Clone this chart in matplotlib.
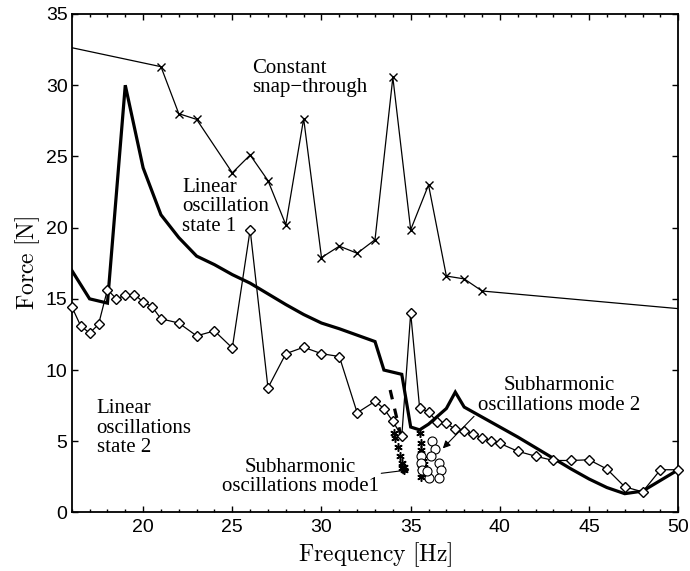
import numpy as np
import matplotlib
matplotlib.use("Agg")
import matplotlib.pyplot as plt
from matplotlib.ticker import MultipleLocator

# --- measured data ---------------------------------------------------------
# snap-through boundary (x markers); end points lie outside the plotted range
freq_snap = [15, 21, 22, 23, 25, 26, 27, 28, 29, 30, 31, 32, 33, 34, 35, 36, 37, 38, 39, 51]
force_snap = [32.9, 31.3, 28.0, 27.6, 23.85, 25.1, 23.3, 20.2, 27.65, 17.9, 18.7, 18.2,
              19.15, 30.55, 19.85, 23.0, 16.6, 16.4, 15.55, 14.2]

# boundary between linear oscillation states (thick line)
freq_thick = [16, 17, 18, 19, 20, 21, 22, 23, 24, 25, 26, 27, 28, 29, 30, 31, 32, 33, 33.5,
              34.5, 35, 35.5, 36, 37, 37.5, 38, 39, 40, 41, 42, 43, 44, 45, 46, 47, 48, 49, 50]
force_thick = [17.0, 15.0, 14.7, 30.0, 24.2, 20.9, 19.3, 18.0, 17.4, 16.7, 16.1, 15.35, 14.6,
               13.9, 13.3, 12.9, 12.45, 12.0, 10.0, 9.7, 6.0, 5.8, 6.2, 7.3, 8.45, 7.4, 6.7,
               6.0, 5.3, 4.55, 3.8, 3.05, 2.35, 1.75, 1.32, 1.5, 2.25, 3.0]

# lower boundary (diamonds)
freq_lin = [16, 16.5, 17, 17.5, 18, 18.5, 19, 19.5, 20, 20.5, 21, 22, 23, 24, 25, 26, 27, 28,
            29, 30, 31, 32, 33, 33.5, 34, 34.5, 35, 35.5, 36, 36.5, 37, 37.5, 38, 38.5, 39,
            39.5, 40, 41, 42, 43, 44, 45, 46, 47, 48, 49, 50]
force_lin = [14.45, 13.1, 12.6, 13.2, 15.65, 15.0, 15.25, 15.3, 14.8, 14.45, 13.6, 13.3, 12.4,
             12.75, 11.55, 19.85, 8.75, 11.15, 11.6, 11.15, 10.95, 7.0, 7.8, 7.3, 6.4, 5.35,
             14.0, 7.35, 7.05, 6.35, 6.25, 5.85, 5.7, 5.5, 5.25, 5.05, 4.85, 4.3, 3.95, 3.65,
             3.65, 3.7, 3.05, 1.8, 1.45, 3.0, 3.0]

# jump of the boundary near 34 Hz (dashed)
freq_jump = [33.85, 34.45]
force_jump = [8.6, 5.4]

# subharmonic mode 1 (asterisks)
freq_sub1 = [34.05, 34.1, 34.3, 34.4, 34.5, 34.5, 34.65, 34.6,
             35.5, 35.55, 35.55, 35.7, 35.75, 35.6, 35.65, 35.55, 35.8]
force_sub1 = [5.6, 5.2, 4.6, 4.0, 3.5, 3.1, 2.95, 3.2,
              5.6, 4.9, 4.4, 3.8, 3.4, 3.1, 2.7, 2.5, 2.9]

# subharmonic mode 2 (circles)
freq_sub2 = [36.2, 36.35, 35.55, 36.15, 35.6, 36.6, 35.65, 36.7, 36.0, 36.6, 35.9]
force_sub2 = [5.0, 4.45, 4.0, 3.95, 3.5, 3.5, 3.0, 3.0, 2.45, 2.45, 2.9]

# --- figure ----------------------------------------------------------------
plt.rcParams['font.family'] = ['Liberation Sans', 'DejaVu Sans']
plt.rcParams['mathtext.fontset'] = 'cm'

fig = plt.figure(figsize=(6.9, 5.71), dpi=100)
ax = fig.add_axes([0.104, 0.1025, 0.879, 0.873])

ax.plot(freq_snap, force_snap, color='k', lw=0.9, marker='x', ms=5.5, mew=1.0,
        markevery=slice(1, -1))
ax.plot(freq_thick, force_thick, color='k', lw=2.3, solid_joinstyle='miter')
ax.plot(freq_lin, force_lin, color='k', lw=0.9, marker='D', ms=5.5, mfc='white',
        mec='k', mew=1.0, clip_on=False, zorder=3)
ax.plot(freq_jump, force_jump, color='k', lw=2.3, ls=(0, (3, 3)))
ax.plot(freq_sub1, force_sub1, ls='none', marker=(6, 2, 0), ms=6, mec='k', mew=1.1)
ax.plot(freq_sub2, force_sub2, ls='none', marker='o', ms=6.5, mfc='white', mec='k', mew=0.8)

ax.set_xlim(16, 50)
ax.set_ylim(0, 35)
ax.xaxis.set_major_locator(MultipleLocator(5))
ax.xaxis.set_minor_locator(MultipleLocator(1))
ax.yaxis.set_major_locator(MultipleLocator(5))
ax.tick_params(which='both', direction='in', top=True, right=True, labelsize=14, width=1.0)
ax.tick_params(axis='x', which='major', length=4, pad=5)
ax.tick_params(axis='x', which='minor', length=2.2)
ax.tick_params(axis='y', which='major', length=4, pad=3)
for s in ax.spines.values():
    s.set_linewidth(1.3)

ax.set_xlabel(r'$\mathrm{Frequency\ [Hz]}$', fontsize=17, labelpad=3)
ax.set_ylabel(r'$\mathrm{Force\ [N]}$', fontsize=17, labelpad=3)

serif = dict(family=['Liberation Serif', 'DejaVu Serif'], fontsize=15, linespacing=1.05)
ax.text(26.1, 30.5, 'Constant\nsnap\u2212through', ha='left', va='center', **serif)
ax.text(22.2, 21.45, 'Linear\noscillation\nstate 1', ha='left', va='center', **serif)
ax.text(17.4, 5.93, 'Linear\noscillations\nstate 2', ha='left', va='center', **serif)
ax.text(28.8, 2.5, 'Subharmonic\noscillations mode1', ha='center', va='center',
        multialignment='center', **serif)
ax.text(43.3, 8.2, 'Subharmonic\noscillations mode 2', ha='center', va='center',
        multialignment='center', **serif)

arrow = dict(arrowstyle='-|>', color='k', lw=0.8, mutation_scale=11, shrinkA=0, shrinkB=0)
ax.annotate('', xy=(34.95, 3.0), xytext=(33.35, 2.75), arrowprops=arrow)
ax.annotate('', xy=(36.8, 4.5), xytext=(38.55, 6.75), arrowprops=arrow)

fig.savefig('out.png', dpi=100)
